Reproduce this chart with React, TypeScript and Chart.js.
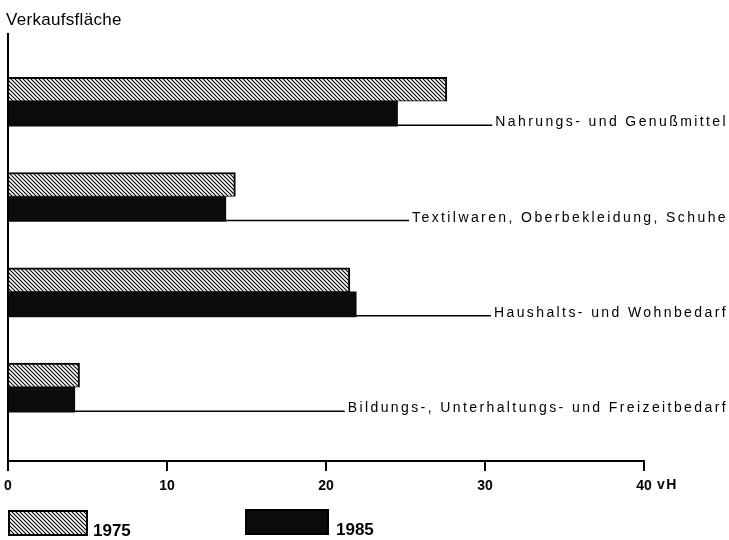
import React, { useEffect, useRef } from "react";
import { Chart, registerables } from "chart.js";

Chart.register(...registerables);

const categories = [
  "Nahrungs- und Genußmittel",
  "Textilwaren, Oberbekleidung, Schuhe",
  "Haushalts- und Wohnbedarf",
  "Bildungs-, Unterhaltungs- und Freizeitbedarf",
];
const seriesNames = ["1975", "1985"];
const values1975 = [27.6, 14.3, 21.5, 4.5];
const values1985 = [24.5, 13.7, 21.9, 4.2];
const tickLabels = ["0", "10", "20", "30", "40"];
const axisTitle = "Verkaufsfläche";
const unitLabel = "vH";

function makeHatch(): CanvasPattern | string {
  const s = 4;
  const c = document.createElement("canvas");
  c.width = s;
  c.height = s;
  const g = c.getContext("2d");
  if (!g) return "#888";
  g.fillStyle = "#fff";
  g.fillRect(0, 0, s, s);
  g.strokeStyle = "#000";
  g.lineWidth = 1.1;
  g.beginPath();
  g.moveTo(0, 0);
  g.lineTo(s, s);
  g.moveTo(-1, s - 1);
  g.lineTo(1, s + 1);
  g.moveTo(s - 1, -1);
  g.lineTo(s + 1, 1);
  g.stroke();
  const p = g.createPattern(c, "repeat");
  return p || "#888";
}

export default function App() {
  const ref = useRef<HTMLCanvasElement | null>(null);

  useEffect(() => {
    const canvas = ref.current;
    if (!canvas) return;
    const hatch = makeHatch();
    const black = "#0b0b0b";
    const FONT = "'Liberation Sans', Arial, sans-serif";

    const annotate = {
      id: "annotate",
      afterDraw(chart: any) {
        const ctx = chart.ctx as CanvasRenderingContext2D;
        const xs = chart.scales.x;
        const area = chart.chartArea;
        ctx.save();
        // vertical axis
        const x0 = xs.getPixelForValue(0);
        ctx.strokeStyle = "#000";
        ctx.lineWidth = 2;
        ctx.beginPath();
        ctx.moveTo(x0, area.top);
        ctx.lineTo(x0, area.bottom + 1);
        ctx.stroke();

        // title
        ctx.fillStyle = "#000";
        ctx.font = `17px ${FONT}`;
        (ctx as any).letterSpacing = "0.3px";
        ctx.textAlign = "left";
        ctx.textBaseline = "alphabetic";
        ctx.fillText(axisTitle, 6, 25);

        // category labels with leader lines
        const meta = chart.getDatasetMeta(1);
        ctx.font = `14px ${FONT}`;
        (ctx as any).letterSpacing = "2.4px";
        categories.forEach((label, i) => {
          const bar = meta.data[i] as any;
          if (!bar) return;
          const props = bar.getProps(["x", "y", "height"], true);
          const bottom = props.y + props.height / 2;
          const w = ctx.measureText(label).width;
          const tx = 728 - w;
          ctx.lineWidth = 1.5;
          ctx.beginPath();
          ctx.moveTo(props.x, bottom - 1);
          ctx.lineTo(tx - 3, bottom - 1);
          ctx.stroke();
          ctx.fillText(label, tx, bottom);
        });

        // unit next to last tick
        ctx.font = `bold 14px ${FONT}`;
        (ctx as any).letterSpacing = "1.5px";
        ctx.textBaseline = "top";
        ctx.fillText(unitLabel, xs.getPixelForValue(40) + 13, xs.top + 17);
        ctx.textBaseline = "alphabetic";
        (ctx as any).letterSpacing = "0px";

        // legend
        const boxes = [
          { x: 8, y: 510, w: 80, h: 26, tx: 93, ty: 536 },
          { x: 245, y: 509, w: 84, h: 26, tx: 336, ty: 535 },
        ];
        chart.data.datasets.forEach((ds: any, i: number) => {
          const b = boxes[i];
          ctx.fillStyle = ds.backgroundColor;
          ctx.fillRect(b.x, b.y, b.w, b.h);
          ctx.strokeStyle = "#000";
          ctx.lineWidth = 2;
          ctx.strokeRect(b.x + 1, b.y + 1, b.w - 2, b.h - 2);
          ctx.fillStyle = "#000";
          ctx.font = `bold 17px ${FONT}`;
          ctx.fillText(ds.label, b.tx, b.ty);
        });
        ctx.restore();
      },
    };

    const chart = new Chart(canvas, {
      type: "bar",
      data: {
        datasets: [
          {
            label: seriesNames[0],
            data: values1975.map((v, i) => ({ x: v, y: i })),
            backgroundColor: hatch as any,
            borderColor: "#000",
            borderWidth: { top: 2, right: 2, bottom: 1, left: 0 },
            borderSkipped: false,
            barThickness: 24,
          },
          {
            label: seriesNames[1],
            data: values1985.map((v, i) => ({ x: v, y: i })),
            backgroundColor: black,
            borderWidth: 0,
            barThickness: 25,
          },
        ],
      },
      options: {
        indexAxis: "y",
        animation: false,
        responsive: false,
        maintainAspectRatio: false,
        layout: { padding: { left: 8, top: 33, right: 85, bottom: 0 } },
        plugins: {
          legend: { display: false },
          tooltip: { enabled: false },
          title: { display: false },
        },
        scales: {
          y: {
            type: "linear",
            display: false,
            reverse: true,
            offset: false,
            min: -0.716,
            max: 3.775,
          },
          x: {
            type: "linear",
            position: "bottom",
            min: 0,
            max: 40,
            ticks: {
              stepSize: 10,
              color: "#000",
              padding: 7,
              font: { family: FONT, size: 14, weight: "bold" },
              callback: (v: any) => tickLabels[Math.round(Number(v) / 10)] ?? "",
            },
            grid: {
              drawOnChartArea: false,
              drawTicks: true,
              tickLength: 10,
              lineWidth: 2,
              color: "#000",
            },
            border: { display: true, color: "#000", width: 2 },
            afterFit: (s: any) => {
              s.height = 79;
              s.paddingLeft = 0;
              s.paddingRight = 0;
            },
          },
        },
      },
      plugins: [annotate],
    } as any);

    return () => chart.destroy();
  }, []);

  return (
    <div style={{ position: "absolute", left: 0, top: 0, width: 729, height: 540, background: "#fff" }}>
      <canvas ref={ref} width={729} height={540} />
    </div>
  );
}
